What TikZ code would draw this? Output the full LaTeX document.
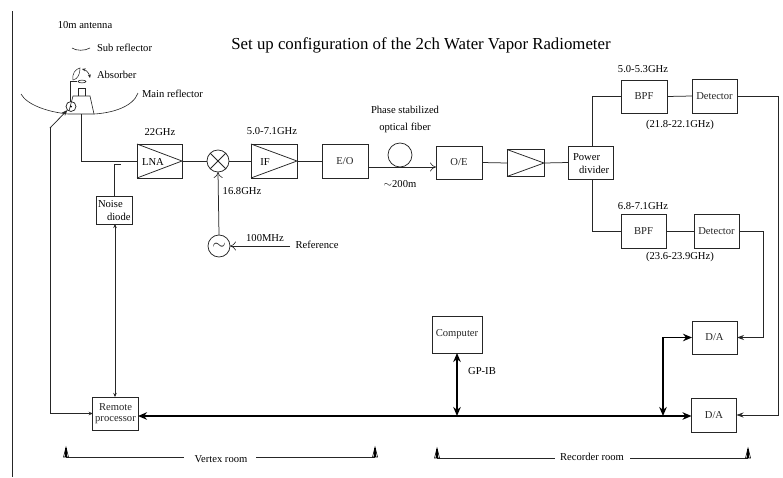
\documentclass[tikz,border=0pt]{standalone}
\usepackage{fontspec}
\setmainfont{Liberation Serif}
\usetikzlibrary{arrows.meta,calc}
\tikzset{
  x=1pt,y=-1pt,
  every node/.style={inner sep=0pt,outer sep=0pt,font=\fontsize{10.6}{11.5}\selectfont},
  wire/.style={line width=0.75pt,black!85},
  box/.style={draw,wire,rectangle,align=center},
  disc/.style={draw,wire,circle},
  bus/.style={line width=1.9pt,black},
  bothtips/.style={{Stealth[length=9pt,width=7.5pt]}-{Stealth[length=9pt,width=7.5pt]}},
  smalltip/.style={-{Stealth[length=4pt,width=3.5pt]}},
  opentip/.style={-{To[length=6pt,width=9pt,line width=0.6pt]}},
  midtip/.style={-{Stealth[length=7pt,width=5pt]}},
  title/.style={font=\fontsize{16.8}{20}\selectfont}
}
\newcommand{\roommark}[1]{%
  \draw[line width=0.6pt] ($(#1)+(-2.5,10)$) -- ($(#1)+(0,0)$) -- ($(#1)+(2.5,10)$) -- cycle;
  \fill ($(#1)+(-0.6,10)$) rectangle ($(#1)+(0.6,1)$);}
\begin{document}
\begin{tikzpicture}
\useasboundingbox (0,0) rectangle (783,477);
\fill[white] (0,0) rectangle (783,477);
\coordinate (rulea) at (12.5,11);
\coordinate (ruleb) at (12.5,477);
\draw[wire] (rulea) -- (ruleb);

% titles and labels
\node[title,anchor=center] (ttl) at (421,45) {Set up configuration of the 2ch Water Vapor Radiometer};
\node (l10m) at (85,25) {10m antenna};
\node[anchor=west] (lsub) at (97,48) {Sub reflector};
\node[anchor=west] (labs) at (97,75) {Absorber};
\node[anchor=west] (lmain) at (142,94) {Main reflector};
\node (l22) at (160,132) {22GHz};
\node (l57) at (272,131) {5.0-7.1GHz};
\node (lpsf) at (405,110) {Phase stabilized};
\node (lof) at (405,128) {optical fiber};
\node (l200) at (400,184) {$\sim$200m};
\node (l53) at (643,69) {5.0-5.3GHz};
\node (l68) at (643,206) {6.8-7.1GHz};
\node (l218) at (680,125) {(21.8-22.1GHz)};
\node (l236) at (680,257) {(23.6-23.9GHz)};
\node (l168) at (242,191) {16.8GHz};
\node (l100) at (265,238) {100MHz};
\node (lref) at (317,245) {Reference};
\node (lgp) at (482,371) {GP-IB};
\node (lvertex) at (221,459) {Vertex room};
\node (lrec) at (592,457) {Recorder room};

% boxes
\node[box,minimum width=45pt,minimum height=34pt] (lna) at (159.5,161) {};
\node at (153,162) {LNA};
\node[disc,minimum size=22pt] (mix) at (218,161) {};
\node[box,minimum width=46pt,minimum height=34pt] (if) at (274,161) {};
\node at (265,162) {IF};
\node[box,minimum width=46pt,minimum height=34pt] (eo) at (345,161) {E/O};
\node[box,minimum width=46pt,minimum height=33pt] (oe) at (459,162.5) {O/E};
\node[box,minimum width=37pt,minimum height=27pt] (amp) at (525.5,163) {};
\node[box,minimum width=45pt,minimum height=33pt] (pd) at (590.5,162.5) {};
\node[anchor=west] at (573,157) {Power};
\node[anchor=west] at (579,170) {divider};
\node[box,minimum width=46pt,minimum height=33pt] (bpfa) at (644,96.5) {BPF};
\node[box,minimum width=45pt,minimum height=34pt] (deta) at (714.5,96) {Detector};
\node[box,minimum width=45pt,minimum height=34pt] (bpfb) at (643.5,231) {BPF};
\node[box,minimum width=45pt,minimum height=34pt] (detb) at (716.5,231) {Detector};
\node[box,minimum width=36pt,minimum height=28pt] (nd) at (114,210) {};
\node[anchor=west] at (98,204) {Noise};
\node[anchor=west] at (107,217) {diode};
\node[disc,minimum size=22pt] (osc) at (219,246) {\fontsize{17}{17}\selectfont$\sim$};
\node[box,minimum width=45.5pt,minimum height=33pt] (rp) at (115.5,413.5) {Remote\\processor};
\node[box,minimum width=50pt,minimum height=37pt] (pc) at (457,334.5) {Computer};
\node[box,minimum width=45pt,minimum height=33pt] (daa) at (714.5,337.5) {D/A};
\node[box,minimum width=45pt,minimum height=34pt] (dab) at (714,415) {D/A};

% amplifier triangles
\draw[wire] (lna.north west) -- (lna.east) -- (lna.south west);
\draw[wire] (if.north west) -- (if.east) -- (if.south west);
\draw[wire] (amp.north west) -- (amp.east) -- (amp.south west);
% mixer cross
\draw[wire] (mix.north west) -- (mix.south east);
\draw[wire] (mix.north east) -- (mix.south west);

% signal chain
\draw[wire] (lna.east) -- (mix.west);
\draw[wire] (mix.east) -- (if.west);
\draw[wire] (if.east) -- (eo.west);
\draw[wire] (oe.east) -- (amp.west);
\draw[wire] (amp.east) -- (pd.west);
\coordinate (pdn) at (592,146);
\coordinate (pds) at (592,179);
\draw[wire] (pdn) |- (bpfa.west);
\draw[wire] (pds) |- (bpfb.west);
\draw[wire] (bpfa.east) -- (deta.west);
\draw[wire] (bpfb.east) -- (detb.west);
\draw[wire,midtip] (deta.east) -- ++(41,0) |- (dab.east);
\draw[wire,midtip] (detb.east) -- ++(24,0) |- (daa.east);
\draw[wire,opentip] (osc.north) -- (mix.south);
\coordinate (refin) at (290,246);
\draw[wire,opentip] (refin) -- (osc.east);

% fibre
\node[disc,minimum size=24pt] (fib) at (400,155) {};
\coordinate (eoout) at (368,167);
\coordinate (oein) at (436,167);
\draw[wire,opentip] (eoout) -- (oein);

% noise diode
\coordinate (ndin) at (121,164);
\coordinate (ndtop) at (114,196);
\draw[wire] (ndtop) |- (ndin);
\coordinate (ndb) at (115,224);
\coordinate (rpt) at (115,397);
\draw[wire,{Stealth[length=4pt,width=3.5pt]}-{Stealth[length=4pt,width=3.5pt]}] (ndb) -- (rpt);

% antenna
\coordinate (ma) at (21,94);
\coordinate (mb) at (68,114);
\coordinate (mc) at (94,114);
\coordinate (md) at (138,93);
\draw[line width=0.6pt,black!85] (ma) .. controls (27,105) and (48,112) .. (mb) -- (mc) .. controls (112,113) and (133,107) .. (md);
\draw[line width=0.6pt,black!85] (69,111) -- (73,96) -- (90,96) -- (mc);
\draw[line width=0.6pt,black!85] (78,96) -- (78,88) -- (85,88) -- (85,96);
\draw[line width=0.6pt,black!85] (82,81.5) ellipse (4pt and 1.4pt);
\draw[line width=0.6pt,black!85] (70,102) -- (70,81) -- (77,81);
\draw[line width=0.5pt,black!85] (73,80) .. controls (72,74) and (75,69) .. (80,68) .. controls (80,74) and (78,79) .. (73,80) -- cycle;
\draw[line width=0.6pt,black!85,{Stealth[length=3.5pt,width=3pt]}-{Stealth[length=3.5pt,width=3pt]}] (82,69) .. controls (86,70) and (89,73) .. (90,78);
\node[disc,minimum size=10pt] (feed) at (71,106.5) {};
\fill (71,106.5) circle (1pt);
\draw[line width=0.6pt,black!85] (72,48) .. controls (76,51) and (85,51) .. (90,48);
\coordinate (feedl) at (50,128);
\draw[wire,-{Stealth[length=6pt,width=4.5pt]}] (feedl) -- (feed.south west);
\draw[wire,smalltip] (feedl) |- (rp.west);
\coordinate (lnain) at (81.5,114);
\draw[wire] (lnain) |- (lna.west);

% bus
\coordinate (junc) at (457,416);
\coordinate (branch) at (663,416);
\coordinate (rpe) at (138,416);
\coordinate (dabw) at (691.5,416);
\draw[bus,bothtips] (rpe) -- (dabw);
\draw[bus,bothtips] (pc.south) -- (junc);
\draw[bus,bothtips] (branch) |- (daa.west);

% room markers and spans
\coordinate (va) at (66,447);
\coordinate (vb) at (375,447);
\coordinate (ra) at (437,448);
\coordinate (rb) at (748,448);
\coordinate (vl) at (184,457);
\coordinate (vr) at (256,457);
\coordinate (rl) at (555,458);
\coordinate (rr) at (630,458);
\draw[wire] (va) ++(0,10) -- (vl);
\draw[wire] (vb) ++(0,10) -- (vr);
\draw[wire] (ra) ++(0,10) -- (rl);
\draw[wire] (rb) ++(0,10) -- (rr);
\roommark{va}
\roommark{vb}
\roommark{ra}
\roommark{rb}
\end{tikzpicture}
\end{document}
